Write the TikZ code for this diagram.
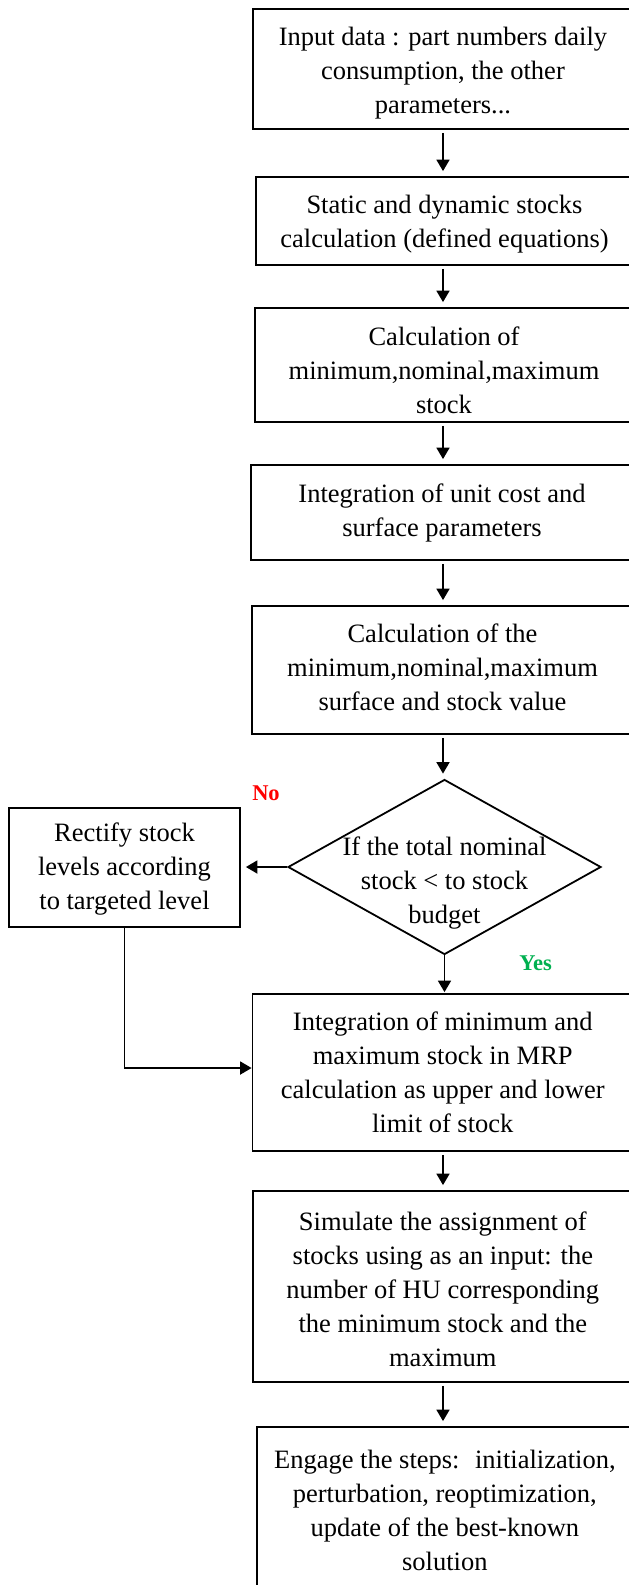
\documentclass[tikz,border=0pt]{standalone}
\usepackage{fontspec}
\setmainfont{Liberation Serif}
\usetikzlibrary{arrows.meta,shapes.geometric}
\definecolor{noRed}{RGB}{255,0,0}
\definecolor{yesGreen}{RGB}{0,176,80}
\begin{document}
\begin{tikzpicture}[x=1pt,y=-1pt,
  box/.style={draw=black, line width=1.8pt, rectangle, inner sep=0pt},
  boxtext/.style={align=center, inner sep=0pt, font=\fontsize{26.5}{34}\selectfont},
  decbox/.style={draw=black, diamond, line width=1.8pt, inner sep=0pt},
  arr/.style={-{Triangle[length=11.5pt,width=13pt]}, line width=1.8pt, shorten >=5pt, shorten <=3pt},
  lbl/.style={inner sep=0pt, font=\fontsize{22.5}{27}\selectfont\bfseries}]
\useasboundingbox (0,0) rectangle (629,1585);
\clip (0,0) rectangle (629,1585);

% boxes
\node[box, minimum width=380pt, minimum height=120pt] (b1) at (443,69) {};
\node[box, minimum width=377pt, minimum height=88pt] (b2) at (444.5,221) {};
\node[box, minimum width=378pt, minimum height=114pt] (b3) at (444,365) {};
\node[box, minimum width=382pt, minimum height=95pt] (b4) at (442,512.5) {};
\node[box, minimum width=381pt, minimum height=128pt] (b5) at (442.5,670) {};
\node[decbox, minimum width=313pt, minimum height=175pt] (dia) at (444.5,867) {};
\node[box, minimum width=231pt, minimum height=119pt] (rect) at (124.5,867.5) {};
\node[box, minimum width=380.5pt, minimum height=157pt] (b6) at (442.75,1072.5) {};
\node[box, minimum width=380.3pt, minimum height=191pt] (b7) at (442.85,1286.5) {};
\node[box, minimum width=376.3pt, minimum height=165pt] (b8) at (444.85,1509.5) {};

% texts
\node[boxtext] (t1) at ([yshift=-4.5pt]b1.center)
  {Input data : part numbers daily\\consumption, the other\\parameters...};
\node[boxtext] (t2) at ([yshift=-3.5pt]b2.center)
  {Static and dynamic stocks\\calculation (defined equations)};
\node[boxtext] (t3) at ([yshift=-5pt]b3.center)
  {Calculation of\\minimum,nominal,maximum\\stock};
\node[boxtext] (t4) at (b4.center)
  {Integration of unit cost and\\surface parameters};
\node[boxtext] (t5) at ([yshift=2.5pt]b5.center)
  {Calculation of the\\minimum,nominal,maximum\\surface and stock value};
\node[boxtext] (diatext) at (444.5,883) {If the total nominal\\stock < to stock\\budget};
\node[boxtext] (trect) at ([yshift=-1.5pt]rect.center)
  {Rectify stock\\levels according\\to targeted level};
\node[boxtext] (t6) at (b6.center)
  {Integration of minimum and\\maximum stock in MRP\\calculation as upper and lower\\limit of stock};
\node[boxtext] (t7) at ([yshift=-3pt]b7.center)
  {Simulate the assignment of\\stocks using as an input: the\\number of HU corresponding\\the minimum stock and the\\maximum};
\node[boxtext] (t8) at ([yshift=-1pt]b8.center)
  {Engage the steps:~ initialization,\\perturbation, reoptimization,\\update of the best-known\\solution};

\node[lbl, text=noRed] (no) at (266,793) {No};
\node[lbl, text=yesGreen] (yes) at (535.5,963) {Yes};

% connectors
\coordinate (ax) at (443,0);
\coordinate (fb) at (0,1068);
\draw[arr] (b1.south -| ax) -- (b2.north -| ax);
\draw[arr] (b2.south -| ax) -- (b3.north -| ax);
\draw[arr] (b3.south -| ax) -- (b4.north -| ax);
\draw[arr] (b4.south -| ax) -- (b5.north -| ax);
\draw[arr] (b5.south -| ax) -- (dia.north -| ax);
\draw[arr, shorten <=0pt, shorten >=1pt] (dia.south) -- (b6.north -| dia.south);
\draw[arr, shorten <=0pt] (dia.west) -- (rect.east |- dia.west);
\draw[arr, shorten <=0pt, shorten >=0pt] (rect.south) |- (b6.west |- fb);
\draw[arr] (b6.south -| ax) -- (b7.north -| ax);
\draw[arr] (b7.south -| ax) -- (b8.north -| ax);
\end{tikzpicture}
\end{document}
